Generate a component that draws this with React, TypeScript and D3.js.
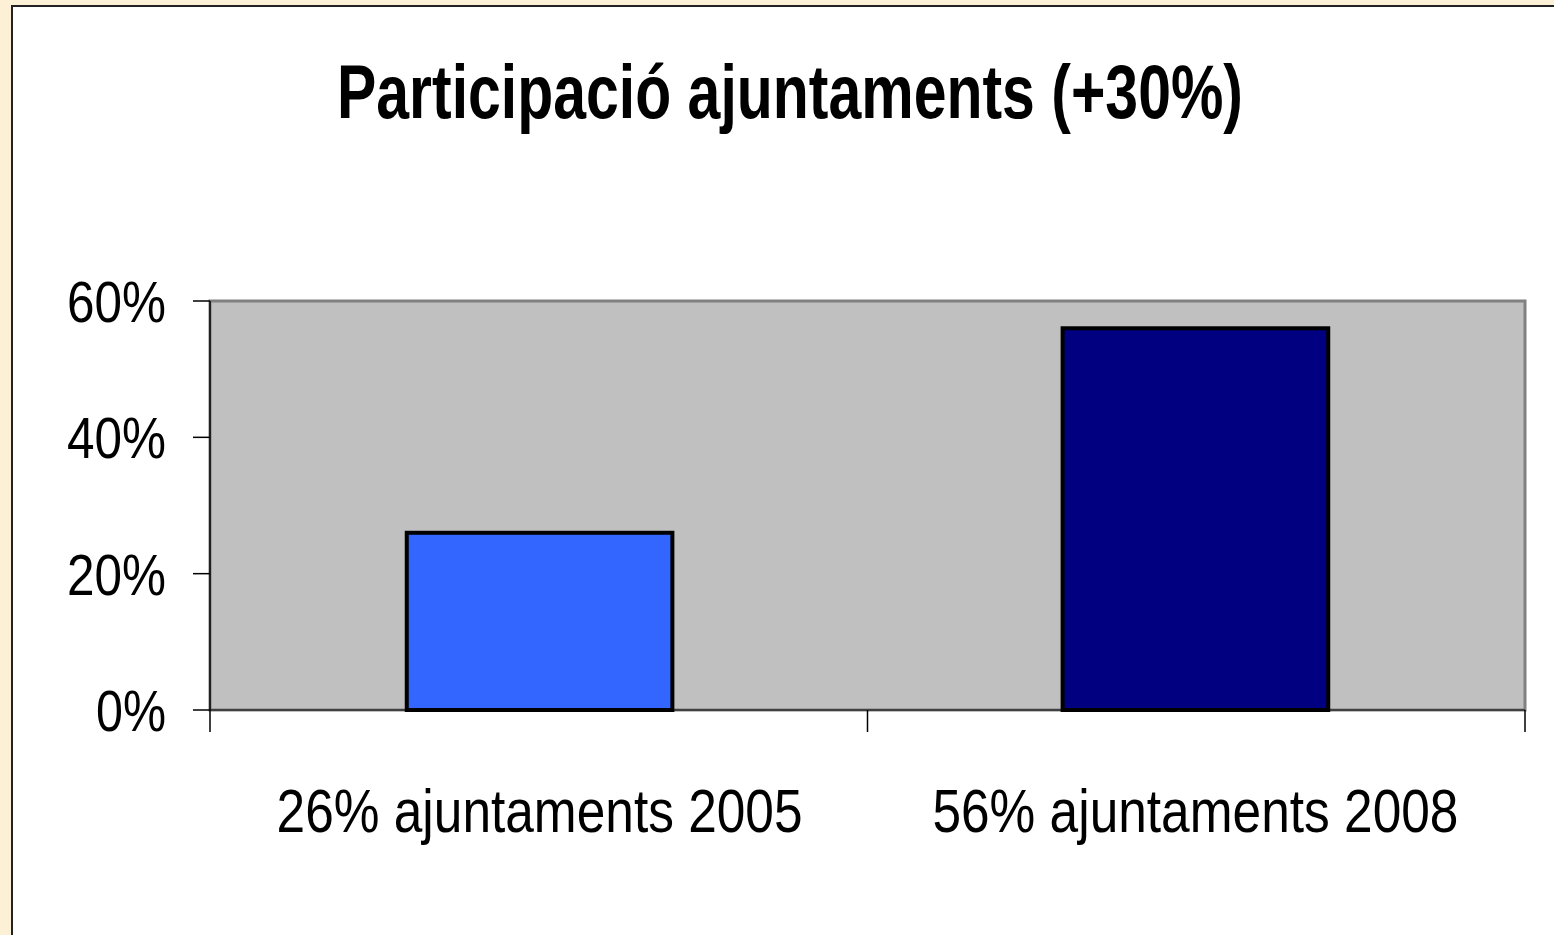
import React from 'react';
import * as d3 from 'd3';

const categories: string[] = ['26% ajuntaments 2005', '56% ajuntaments 2008'];
const values: number[] = [0.26, 0.56];
const barColors: string[] = ['#3366ff', '#000080'];
const yTicks: number[] = [0, 0.2, 0.4, 0.6];
const title = 'Participació ajuntaments (+30%)';

const W = 1554;
const H = 935;
const FONT = "'Liberation Sans Narrow', 'Arial Narrow', 'Liberation Sans', Arial, sans-serif";

const App: React.FC = () => {
  const plot = { left: 210, right: 1525, top: 301, bottom: 710 };

  const x = d3.scaleBand<string>()
    .domain(categories)
    .range([plot.left, plot.right])
    .paddingInner(0.595)
    .paddingOuter(0.3);

  const y = d3.scaleLinear()
    .domain([0, 0.6])
    .range([plot.bottom, plot.top]);

  const fmt = d3.format('.0%');
  const step = (plot.right - plot.left) / categories.length;

  return (
    <svg width={W} height={H} style={{ position: 'absolute', left: 0, top: 0 }}>
      <rect x={0} y={0} width={W} height={H} fill="#fcf0d6" />
      <rect x={12} y={6} width={W} height={H} fill="#ffffff" stroke="#222" strokeWidth={2} />

      {/* Title */}
      <text
        x={790}
        y={118}
        textAnchor="middle"
        fontFamily={FONT}
        fontWeight="bold"
        fontSize={76}
        textLength={906}
        lengthAdjust="spacingAndGlyphs"
        fill="#000"
      >
        {title}
      </text>

      {/* Plot area */}
      <rect
        x={plot.left}
        y={plot.top}
        width={plot.right - plot.left}
        height={plot.bottom - plot.top}
        fill="#c0c0c0"
        stroke="#808080"
        strokeWidth={3}
      />

      {/* Bars */}
      {categories.map((c, i) => (
        <rect
          key={c}
          x={x(c)!}
          y={y(values[i])}
          width={x.bandwidth()}
          height={y(0) - y(values[i])}
          fill={barColors[i]}
          stroke="#000"
          strokeWidth={4}
        />
      ))}

      {/* Y axis */}
      <line x1={plot.left} x2={plot.left} y1={plot.top} y2={plot.bottom} stroke="#000" strokeWidth={1.5} />
      {yTicks.map(t => (
        <g key={t}>
          <line x1={193} x2={plot.left} y1={y(t)} y2={y(t)} stroke="#000" strokeWidth={1.5} />
          <text
            x={166}
            y={y(t) + 21}
            textAnchor="end"
            fontFamily={FONT}
            fontSize={58}
            textLength={fmt(t).length === 2 ? 70 : 99}
            lengthAdjust="spacingAndGlyphs"
            fill="#000"
          >
            {fmt(t)}
          </text>
        </g>
      ))}

      {/* X axis */}
      <line x1={plot.left} x2={plot.right} y1={plot.bottom} y2={plot.bottom} stroke="#000" strokeWidth={1} />
      {d3.range(categories.length + 1).map(i => (
        <line
          key={i}
          x1={plot.left + i * step}
          x2={plot.left + i * step}
          y1={plot.bottom}
          y2={732}
          stroke="#000"
          strokeWidth={1.5}
        />
      ))}
      {categories.map(c => (
        <text
          key={c}
          x={x(c)! + x.bandwidth() / 2}
          y={832}
          textAnchor="middle"
          fontFamily={FONT}
          fontSize={62}
          textLength={526}
          lengthAdjust="spacingAndGlyphs"
          fill="#000"
        >
          {c}
        </text>
      ))}
    </svg>
  );
};

export default App;
